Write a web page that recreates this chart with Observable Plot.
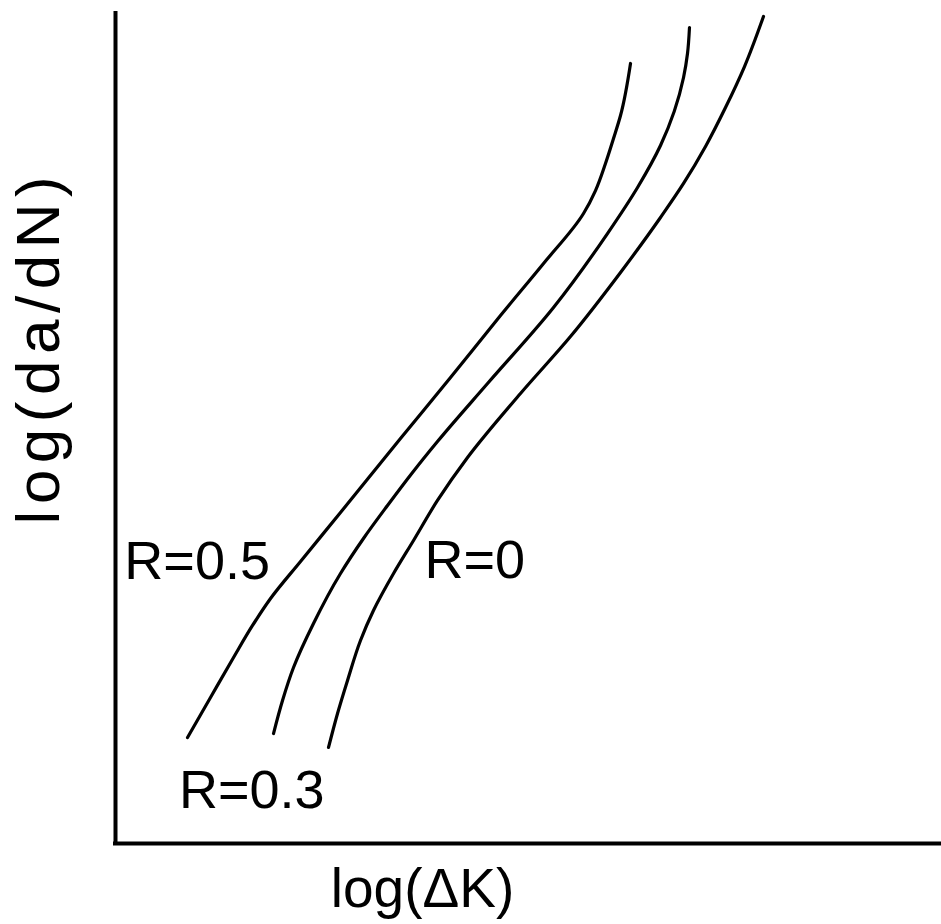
<!DOCTYPE html>
<html>
<head>
<meta charset="utf-8">
<script src="https://cdn.jsdelivr.net/npm/d3@7"></script>
<script src="https://cdn.jsdelivr.net/npm/@observablehq/plot@0.6"></script>
<style>
  html, body { margin: 0; padding: 0; background: #fff; }
  #chart { width: 941px; height: 924px; }
</style>
</head>
<body>
<div id="chart"></div>
<script>
// Schematic: log(da/dN) vs log(ΔK), arbitrary units 0..10 on both axes
const r05X = [0.872, 1.150, 1.429, 1.659, 1.877, 2.240, 2.724, 3.450, 4.056, 4.661, 5.182, 5.666, 5.811, 5.932, 6.029, 6.114, 6.235];
const r05Y = [1.277, 1.759, 2.241, 2.627, 2.952, 3.398, 3.988, 4.880, 5.614, 6.361, 6.988, 7.590, 7.867, 8.193, 8.494, 8.771, 9.398];

const r03X = [1.913, 2.022, 2.155, 2.397, 2.724, 3.002, 3.293, 3.596, 3.898, 4.504, 5.303, 5.956, 6.320, 6.598, 6.877, 6.925, 6.949];
const r03Y = [1.325, 1.723, 2.120, 2.651, 3.253, 3.675, 4.072, 4.470, 4.843, 5.542, 6.458, 7.349, 7.904, 8.410, 9.229, 9.518, 9.831];

const r0X = [2.579, 2.688, 2.809, 2.966, 3.123, 3.366, 3.608, 3.898, 4.262, 4.903, 5.508, 6.114, 6.598, 6.877, 7.143, 7.385, 7.615, 7.845];
const r0Y = [1.157, 1.566, 1.964, 2.446, 2.807, 3.253, 3.651, 4.133, 4.651, 5.422, 6.108, 6.880, 7.542, 7.952, 8.398, 8.867, 9.361, 9.964];

const seriesNames = ["R=0.5", "R=0.3", "R=0"];
const labelX = [1.87, 1.65, 4.35];
const labelY = [3.39, 0.64, 3.41];
const labelAnchor = ["end", "middle", "middle"];

const xLabel = "log(\u0394K)";
const yLabel = "log(da/dN)";

const curves = [
  ...r05X.map((x, i) => ({series: seriesNames[0], x, y: r05Y[i]})),
  ...r03X.map((x, i) => ({series: seriesNames[1], x, y: r03Y[i]})),
  ...r0X.map((x, i) => ({series: seriesNames[2], x, y: r0Y[i]}))
];
const labels = seriesNames.map((t, i) => ({t, x: labelX[i], y: labelY[i], a: labelAnchor[i]}));

const font = "'Liberation Sans', Arial, sans-serif";

const plot = Plot.plot({
  width: 941,
  height: 924,
  marginLeft: 115,
  marginRight: 0,
  marginTop: 13,
  marginBottom: 81,
  x: {domain: [0, 10], axis: null},
  y: {domain: [0, 10], axis: null},
  style: {fontFamily: font, background: "#fff", color: "#000"},
  marks: [
    Plot.line(curves, {x: "x", y: "y", z: "series", curve: "monotone-y", stroke: "#000", strokeWidth: 3.2, strokeLinecap: "round"}),
    Plot.ruleX([0], {stroke: "#000", strokeWidth: 4, strokeLinecap: "square"}),
    Plot.ruleY([0], {stroke: "#000", strokeWidth: 4, strokeLinecap: "square"}),
    Plot.text(labels.filter(d => d.a === "end"), {x: "x", y: "y", text: "t", textAnchor: "end", fontSize: 54, fill: "#000"}),
    Plot.text(labels.filter(d => d.a === "middle"), {x: "x", y: "y", text: "t", textAnchor: "middle", fontSize: 54, fill: "#000"}),
    Plot.text([xLabel], {frameAnchor: "bottom", dx: -106, dy: 46, fontSize: 55, fill: "#000", lineAnchor: "middle"}),
    Plot.text([yLabel], {x: () => -0.93, y: () => 5.98, rotate: -90, fontSize: 62, fill: "#000", lineAnchor: "middle", textAnchor: "middle"})
  ]
});
d3.select(plot).selectAll("text").filter(function() { return this.textContent === yLabel; }).attr("letter-spacing", 6.5);
document.getElementById("chart").appendChild(plot);
</script>
</body>
</html>
